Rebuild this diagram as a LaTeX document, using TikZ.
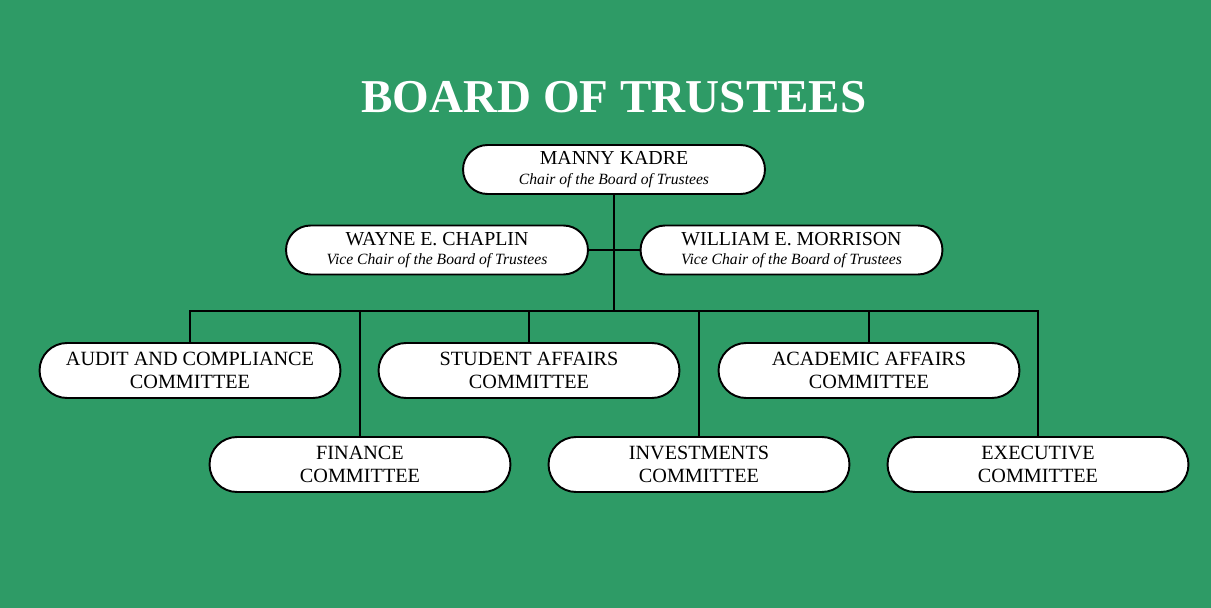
\documentclass[tikz,border=0pt]{standalone}
\usepackage{fontspec}
\setmainfont{Liberation Serif}
\usetikzlibrary{positioning}
\definecolor{boardgreen}{RGB}{46,155,102}

\begin{document}
\begin{tikzpicture}[
  x=0.02cm, y=-0.02cm,
  person/.style={draw=black, fill=white, line width=1.1pt, rounded corners=0.49cm,
    minimum width=6.04cm, minimum height=0.98cm, align=center, inner sep=0pt},
  committee/.style={draw=black, fill=white, line width=1.1pt, rounded corners=0.55cm,
    minimum width=6.02cm, minimum height=1.1cm, align=center, inner sep=0pt,
    font=\fontsize{11.5}{13}\selectfont},
  link/.style={line width=1.1pt, black}
]
% background
\fill[boardgreen] (0,0) rectangle (1211,608);
\useasboundingbox (0,0) rectangle (1211,608);

% title
\node[font=\fontsize{26.8}{30}\selectfont\bfseries, text=white] (title) at (614,97) {BOARD OF TRUSTEES};

% chair and vice chairs
\node[person] (chair) at (614,169.5) {%
  {\fontsize{11.3}{13}\selectfont MANNY KADRE}\\[-1pt]
  {\fontsize{8.9}{10}\selectfont\itshape Chair of the Board of Trustees}};
\node[person] (vice1) at (437,250) {%
  {\fontsize{11.3}{13}\selectfont WAYNE E. CHAPLIN}\\[-1pt]
  {\fontsize{8.9}{10}\selectfont\itshape Vice Chair of the Board of Trustees}};
\node[person] (vice2) at (791.5,250) {%
  {\fontsize{11.3}{13}\selectfont WILLIAM E. MORRISON}\\[-1pt]
  {\fontsize{8.9}{10}\selectfont\itshape Vice Chair of the Board of Trustees}};

% committees, upper row
\node[committee] (audit) at (190,370.5) {AUDIT AND COMPLIANCE\\COMMITTEE};
\node[committee] (student) at (529,370.5) {STUDENT AFFAIRS\\COMMITTEE};
\node[committee] (academic) at (869,370.5) {ACADEMIC AFFAIRS\\COMMITTEE};
% committees, lower row
\node[committee] (finance) at (360,464.5) {FINANCE\\COMMITTEE};
\node[committee] (invest) at (699,464.5) {INVESTMENTS\\COMMITTEE};
\node[committee] (exec) at (1038,464.5) {EXECUTIVE\\COMMITTEE};

% connectors
\coordinate (bus) at (614,311);
\draw[link] (vice1.east) -- (vice2.west);
\draw[link] (chair.south) -- (bus);
\draw[link] (audit.north) |- (bus) -| (exec.north);
\foreach \c in {student, academic}
  \draw[link] (\c.north) -- (\c.north |- bus);
\foreach \c in {finance, invest}
  \draw[link] (\c.north) -- (\c.north |- bus);
\end{tikzpicture}
\end{document}
